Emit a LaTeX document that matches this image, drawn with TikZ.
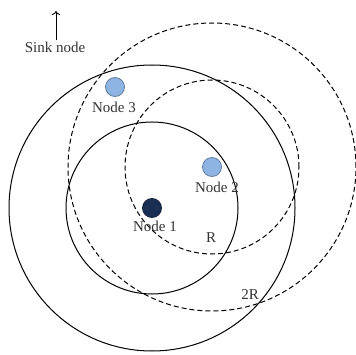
\documentclass[tikz,border=0pt]{standalone}
\usepackage{fontspec}
\setmainfont{Liberation Serif}
\usetikzlibrary{arrows.meta, positioning}
\definecolor{clight}{HTML}{8DB4E2}
\definecolor{cedge}{HTML}{4F81BD}
\definecolor{cdark}{HTML}{1B2F55}
\tikzset{
  every picture/.style={font=\fontsize{15}{17}\selectfont, line width=0.9pt},
  sensor/.style={circle, draw=#1!70!black, fill=#1, line width=0.8pt, minimum size=19pt, inner sep=0pt},
  sensor/.default=clight,
  solidrange/.style={draw=black, line width=1pt},
  dashrange/.style={draw=black, line width=1pt, dash pattern=on 5pt off 3pt},
  tag/.style={inner sep=1pt, text=black!80},
}
\begin{document}
\begin{tikzpicture}[x=1pt, y=1pt]
  \useasboundingbox (0,0) rectangle (356,354);
  % sensors
  \node[sensor=cdark] (n1) at (152,146) {};
  \node[sensor] (n2) at (212,187) {};
  \node[sensor] (n3) at (115,267) {};
  % ranges of node 1
  \draw[solidrange] (n1.center) circle (86);
  \draw[solidrange] (n1.center) circle (143);
  % ranges of node 2
  \draw[dashrange] (n2.center) circle (87);
  \draw[dashrange] (n2.center) circle (144);
  % labels
  \node[tag] (l1) at (155,128) {Node 1};
  \node[tag] (l2) at (217,167) {Node 2};
  \node[tag] (l3) at (114,247) {Node 3};
  \node[tag] (r1) at (211,116) {R};
  \node[tag] (r2) at (250,59) {2R};
  % sink
  \node[tag] (sink) at (55,307) {Sink node};
  \coordinate (up) at (56,343);
  \draw[-{To[length=4pt]}, line width=0.9pt] ([xshift=1pt]sink.north) -- (up);
\end{tikzpicture}
\end{document}
